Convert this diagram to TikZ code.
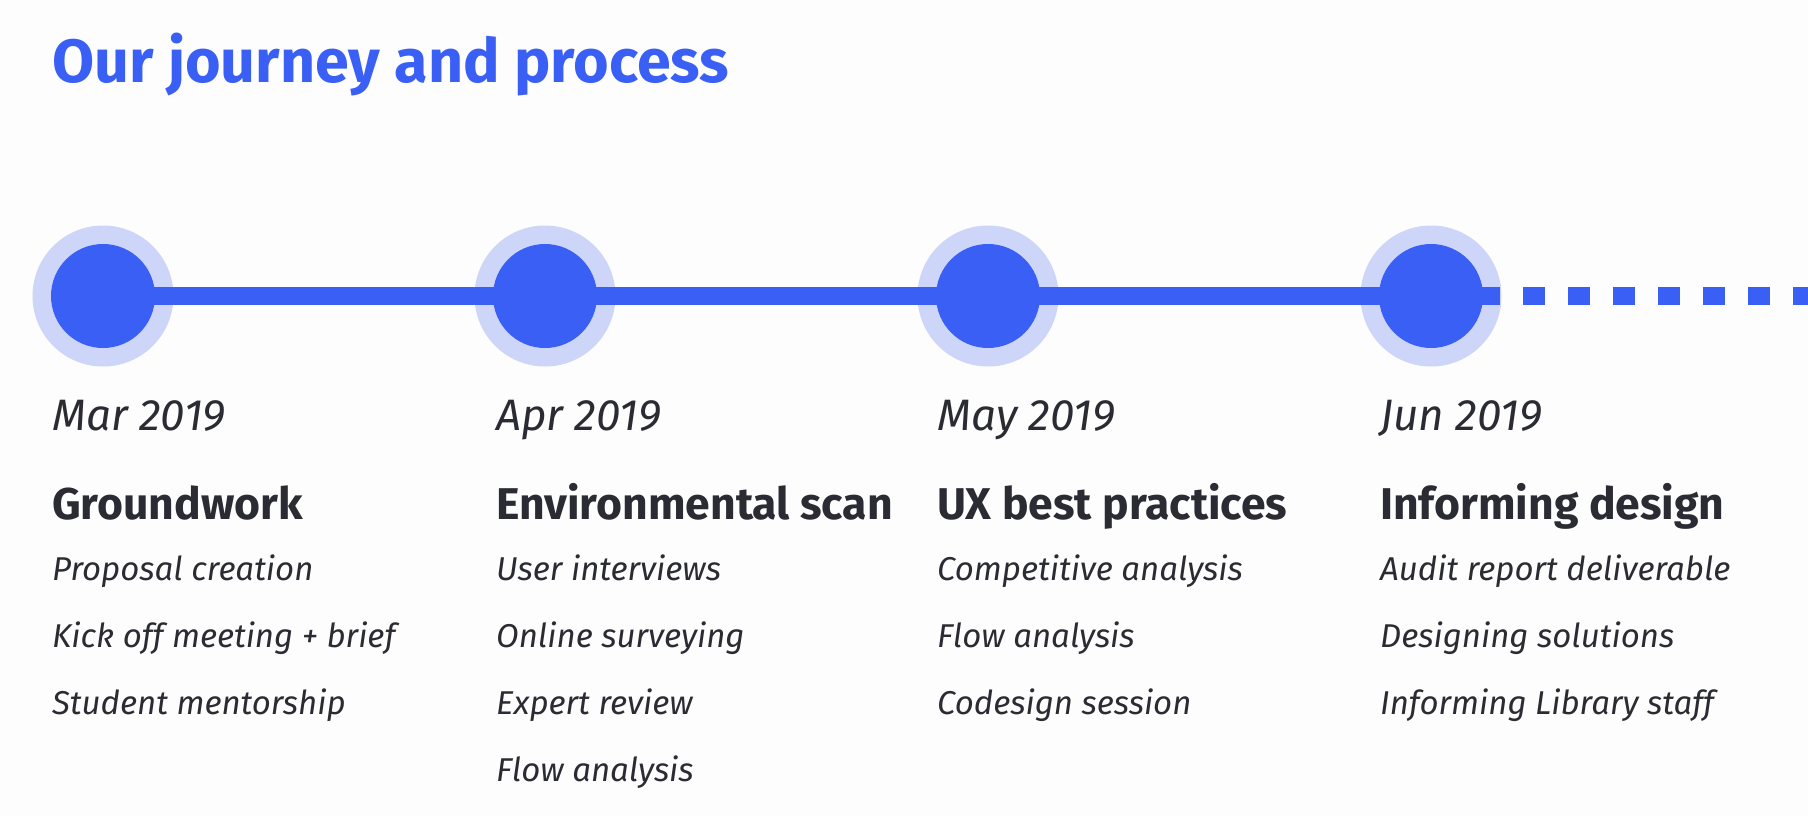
\documentclass[tikz,border=0pt]{standalone}
\usepackage{fontspec}
\setmainfont{Fira Sans}
\definecolor{jblue}{HTML}{3A5FF5}
\definecolor{jring}{HTML}{CDD5F8}
\definecolor{jtext}{HTML}{2B2C33}
\definecolor{jbg}{HTML}{FDFDFD}
\tikzset{
  ringdot/.style={circle,fill=jring,draw=none,inner sep=0pt,minimum size=141pt},
  coredot/.style={circle,fill=jblue,draw=none,inner sep=0pt,minimum size=104pt},
  tline/.style={draw=jblue,line width=18pt},
  dline/.style={draw=jblue,line width=18pt,dash pattern=on 22pt off 23pt},
  ttl/.style={anchor=base west,inner sep=0pt,text=jblue,font=\fontsize{61}{70}\selectfont\bfseries},
  datelbl/.style={anchor=base west,inner sep=0pt,text=jtext,font=\fontsize{44}{50}\selectfont\itshape},
  headlbl/.style={anchor=base west,inner sep=0pt,text=jtext,font=\fontsize{44.5}{54}\selectfont\bfseries},
  itemlbl/.style={anchor=base west,inner sep=0pt,text=jtext,font=\fontsize{33}{38}\selectfont\itshape},
}
\begin{document}
\begin{tikzpicture}[x=1pt,y=-1pt]
\fill[jbg] (0,0) rectangle (1808,816);
\useasboundingbox (0,0) rectangle (1808,816);
\node[ttl] (title) at (52,83) {Our journey and process};
% rings
\node[ringdot] (r1) at (103,296) {};
\node[ringdot] (r2) at (545,296) {};
\node[ringdot] (r3) at (988,296) {};
\node[ringdot] (r4) at (1431,296) {};
\coordinate (solidend) at (1500,296);
\coordinate (dashstart) at (1523,296);
\coordinate (dashend) at (1808,296);
\draw[tline] (r1.center) -- (r2.center) -- (r3.center) -- (r4.center) -- (solidend);
\draw[dline] (dashstart) -- (dashend);
\node[coredot] (c1) at (r1) {};
\node[coredot] (c2) at (r2) {};
\node[coredot] (c3) at (r3) {};
\node[coredot] (c4) at (r4) {};
% column 1
\node[datelbl] (d1) at (52,430) {Mar 2019};
\node[headlbl] (h1) at (52,519) {Groundwork};
\node[itemlbl] (a1) at (52,580) {Proposal creation};
\node[itemlbl] (b1) at (52,647) {Kick off meeting + brief};
\node[itemlbl] (e1) at (52,714) {Student mentorship};
% column 2
\node[datelbl] (d2) at (496,430) {Apr 2019};
\node[headlbl] (h2) at (496,519) {Environmental scan};
\node[itemlbl] (a2) at (496,580) {User interviews};
\node[itemlbl] (b2) at (496,647) {Online surveying};
\node[itemlbl] (e2) at (496,714) {Expert review};
\node[itemlbl] (f2) at (496,781) {Flow analysis};
% column 3
\node[datelbl] (d3) at (937,430) {May 2019};
\node[headlbl] (h3) at (937,519) {UX best practices};
\node[itemlbl] (a3) at (937,580) {Competitive analysis};
\node[itemlbl] (b3) at (937,647) {Flow analysis};
\node[itemlbl] (e3) at (937,714) {Codesign session};
% column 4
\node[datelbl] (d4) at (1380,430) {Jun 2019};
\node[headlbl] (h4) at (1380,519) {Informing design};
\node[itemlbl] (a4) at (1380,580) {Audit report deliverable};
\node[itemlbl] (b4) at (1380,647) {Designing solutions};
\node[itemlbl] (e4) at (1380,714) {Informing Library staff};
\end{tikzpicture}
\end{document}
